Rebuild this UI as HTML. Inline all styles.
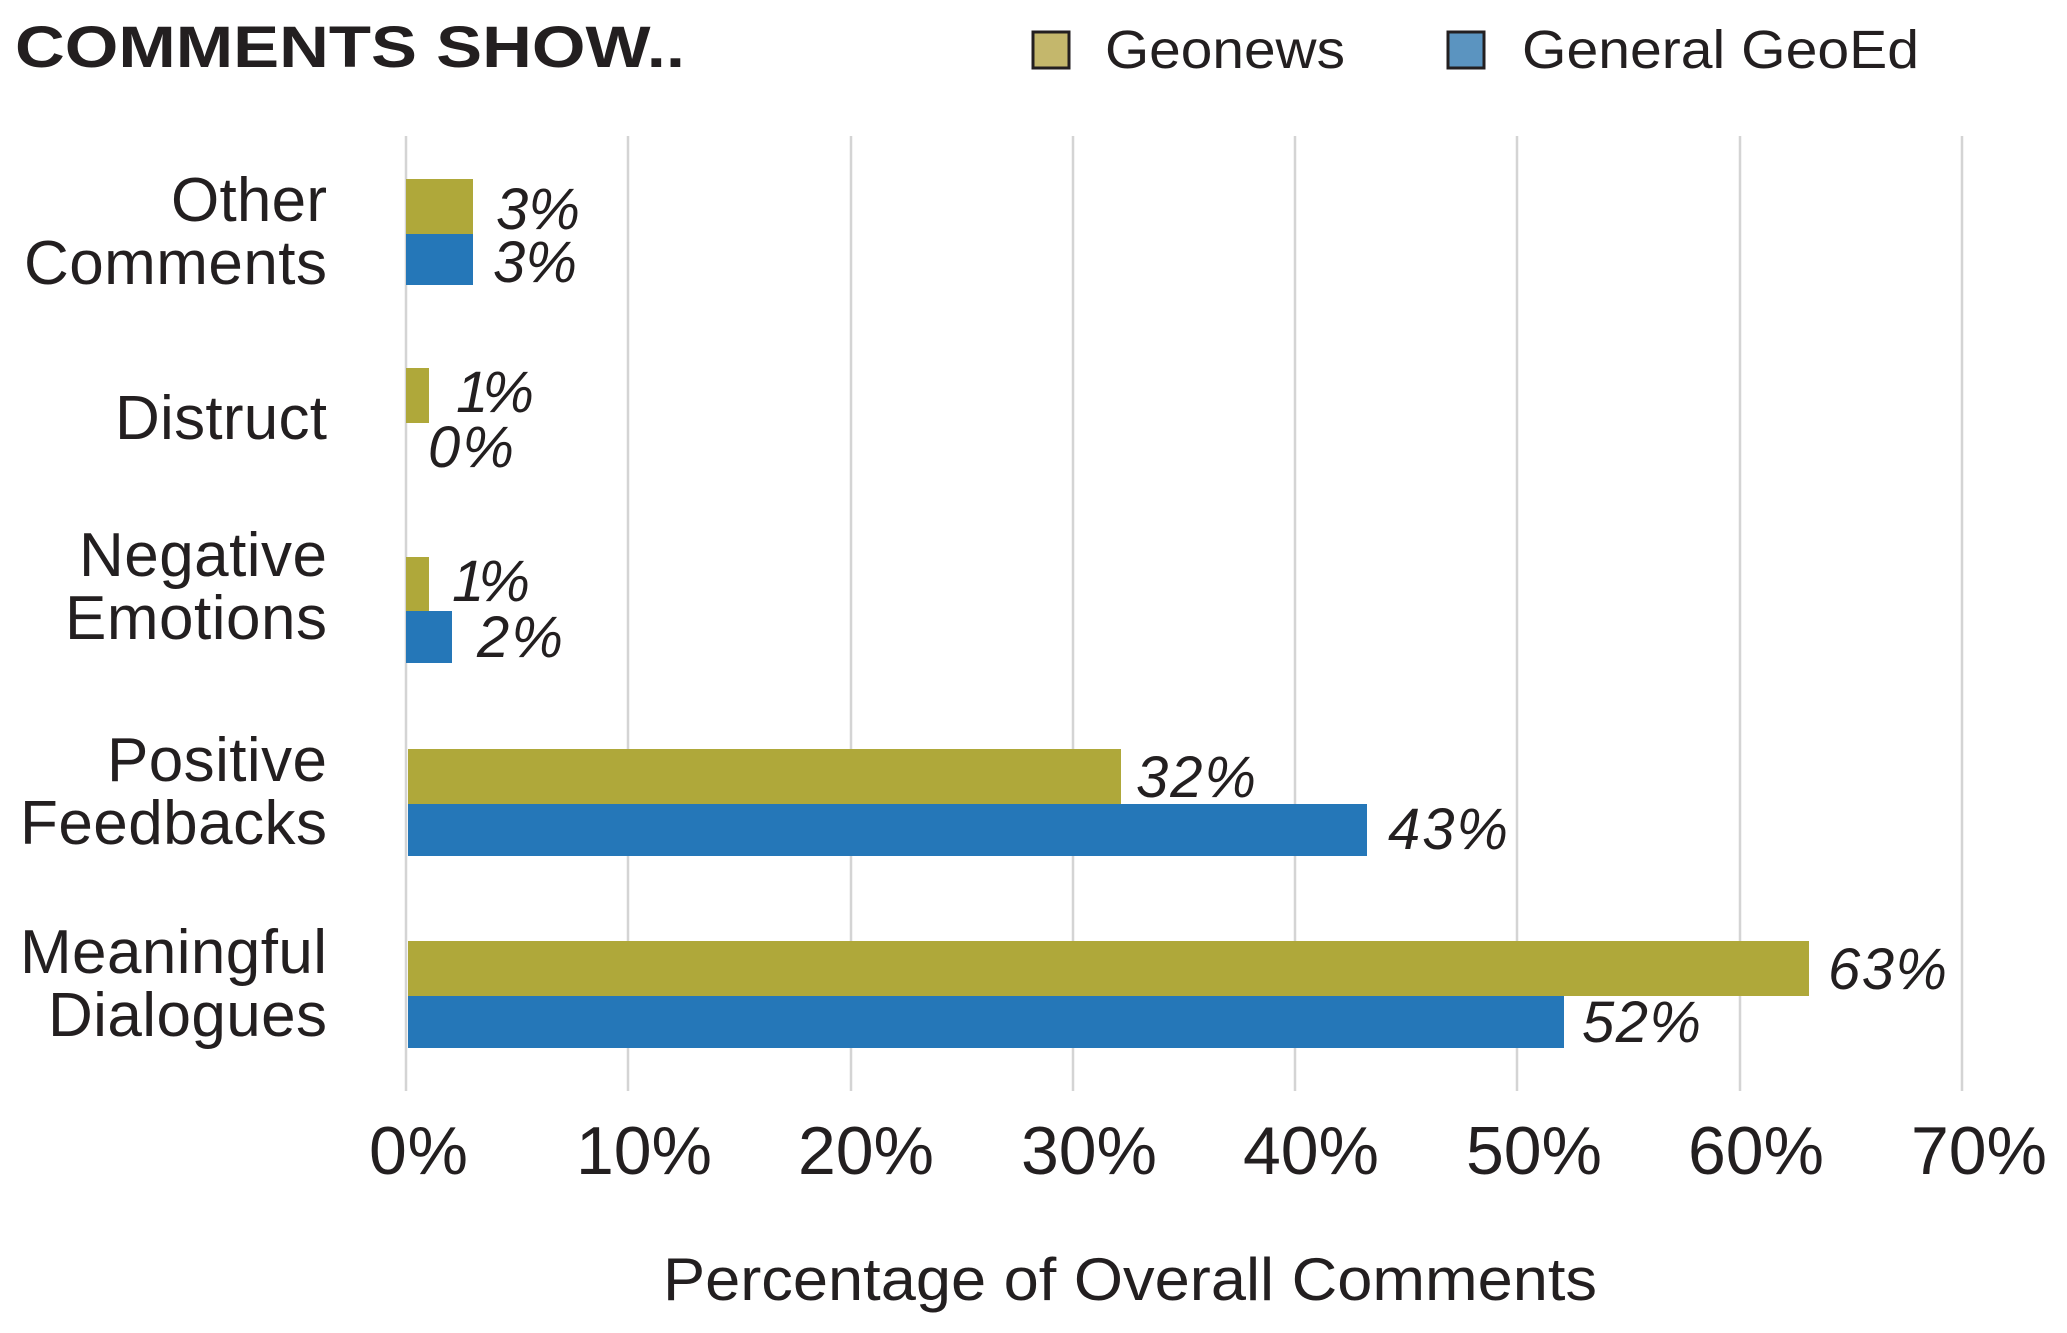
<!DOCTYPE html>
<html><head><meta charset="utf-8"><style>
html,body{margin:0;padding:0;background:#fff;}
svg{display:block;}
text{font-family:"Liberation Sans",sans-serif;fill:#231f20;}
</style></head><body>
<svg width="2067" height="1333" viewBox="0 0 2067 1333" xmlns="http://www.w3.org/2000/svg">
<text x="15" y="67" font-size="58" font-weight="bold" textLength="670" lengthAdjust="spacingAndGlyphs">COMMENTS SHOW..</text>
<rect x="1033" y="32" width="36" height="36" fill="#c4b76c" stroke="#231f20" stroke-width="3"/>
<text x="1105" y="68" font-size="54" textLength="240" lengthAdjust="spacingAndGlyphs">Geonews</text>
<rect x="1448" y="32" width="36" height="36" fill="#5b94c0" stroke="#231f20" stroke-width="3"/>
<text x="1522" y="68" font-size="54" textLength="397" lengthAdjust="spacingAndGlyphs">General GeoEd</text>
<g stroke="#d4d4d4" stroke-width="2.5">
<line x1="406" y1="136" x2="406" y2="1091"/>
<line x1="628" y1="136" x2="628" y2="1091"/>
<line x1="851" y1="136" x2="851" y2="1091"/>
<line x1="1073" y1="136" x2="1073" y2="1091"/>
<line x1="1295" y1="136" x2="1295" y2="1091"/>
<line x1="1517" y1="136" x2="1517" y2="1091"/>
<line x1="1740" y1="136" x2="1740" y2="1091"/>
<line x1="1962" y1="136" x2="1962" y2="1091"/>
</g>
<g fill="#afa83a">
<rect x="406" y="179" width="67" height="55"/>
<rect x="406" y="368" width="23" height="55"/>
<rect x="406" y="557" width="23" height="54"/>
<rect x="408" y="749" width="713" height="55"/>
<rect x="408" y="941" width="1401" height="55"/>
</g>
<g fill="#2577b8">
<rect x="406" y="234" width="67" height="51"/>
<rect x="406" y="611" width="46" height="52"/>
<rect x="408" y="804" width="959" height="52"/>
<rect x="408" y="996" width="1156" height="52"/>
</g>
<g font-size="58" font-style="italic" lengthAdjust="spacingAndGlyphs">
<text x="496" y="229" textLength="84">3%</text>
<text x="493" y="282" textLength="84">3%</text>
<text x="456" y="412" textLength="78">1%</text>
<text x="428" y="467" textLength="86">0%</text>
<text x="452" y="601" textLength="78">1%</text>
<text x="477" y="657" textLength="86">2%</text>
<text x="1136" y="797" textLength="120">32%</text>
<text x="1388" y="849" textLength="120">43%</text>
<text x="1828" y="989" textLength="119">63%</text>
<text x="1582" y="1042" textLength="119">52%</text>
</g>
<g font-size="62" lengthAdjust="spacingAndGlyphs">
<text x="171" y="221" textLength="156">Other</text>
<text x="24" y="284" textLength="303">Comments</text>
<text x="115" y="439" textLength="212">Distruct</text>
<text x="79" y="576" textLength="248">Negative</text>
<text x="65" y="639" textLength="262">Emotions</text>
<text x="107" y="781" textLength="220">Positive</text>
<text x="20" y="844" textLength="307">Feedbacks</text>
<text x="20" y="973" textLength="307">Meaningful</text>
<text x="48" y="1036" textLength="279">Dialogues</text>
</g>
<g font-size="68" lengthAdjust="spacingAndGlyphs">
<text x="369" y="1174" textLength="99">0%</text>
<text x="576" y="1174" textLength="136">10%</text>
<text x="798" y="1174" textLength="136">20%</text>
<text x="1021" y="1174" textLength="136">30%</text>
<text x="1243" y="1174" textLength="136">40%</text>
<text x="1466" y="1174" textLength="136">50%</text>
<text x="1688" y="1174" textLength="136">60%</text>
<text x="1911" y="1174" textLength="136">70%</text>
</g>
<text x="663" y="1300" font-size="60" textLength="934" lengthAdjust="spacingAndGlyphs">Percentage of Overall Comments</text>
</svg>
</body></html>
